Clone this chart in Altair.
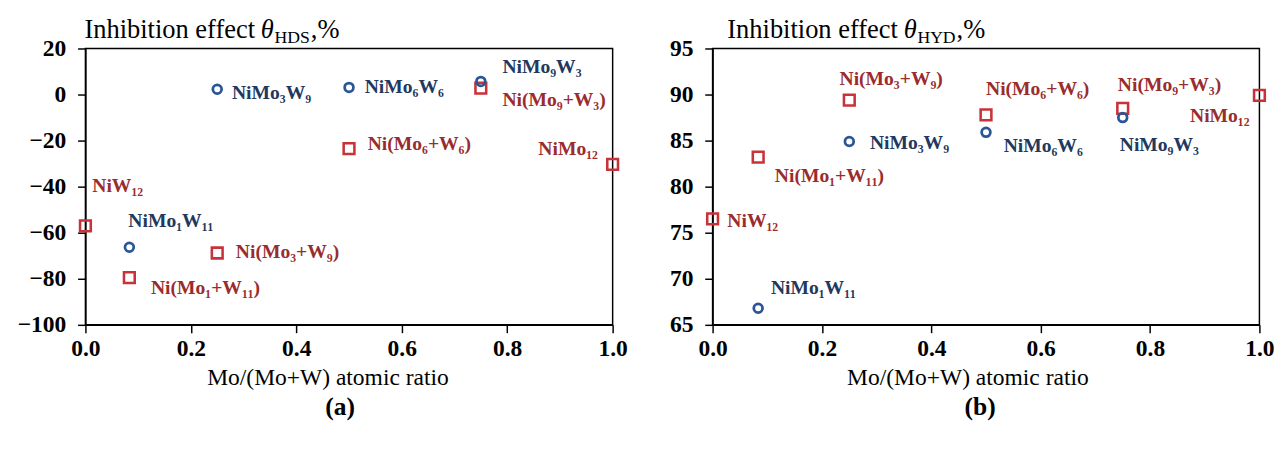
import altair as alt
import pandas as pd

# ---------------- data ----------------
circ_ratio = [1/12, 0.25, 0.5, 0.75]
circ_labels = ["NiMo₁W₁₁", "NiMo₃W₉", "NiMo₆W₆", "NiMo₉W₃"]
hds_circ = [-66.3, 2.3, 3.1, 5.7]
hyd_circ = [66.8, 84.9, 85.9, 87.5]

sq_ratio = [0.0, 1/12, 0.25, 0.5, 0.75, 1.0]
sq_labels = ["NiW₁₂", "Ni(Mo₁+W₁₁)", "Ni(Mo₃+W₉)", "Ni(Mo₆+W₆)", "Ni(Mo₉+W₃)", "NiMo₁₂"]
hds_sq = [-57.0, -79.5, -68.8, -23.5, 2.8, -30.3]
hyd_sq = [76.5, 83.2, 89.4, 87.8, 88.5, 89.9]

x_ticks = [0.0, 0.2, 0.4, 0.6, 0.8, 1.0]
hds_ticks = [-100, -80, -60, -40, -20, 0, 20]
hyd_ticks = [65, 70, 75, 80, 85, 90, 95]

# ---------------- style ----------------
FONT = "Liberation Serif"
BLUE_M = "#2B5595"
BLUE_T = "#22385E"
RED_M = "#C8333A"
RED_T = "#9A2C2E"

left_off = {
    "NiW₁₂": (7, -41, "left"),
    "NiMo₁W₁₁": (-1, -27, "left"),
    "Ni(Mo₁+W₁₁)": (22, 11, "left"),
    "NiMo₃W₉": (15, 4, "left"),
    "Ni(Mo₃+W₉)": (19, -1, "left"),
    "NiMo₆W₆": (16, 0, "left"),
    "Ni(Mo₆+W₆)": (19, -5, "left"),
    "NiMo₉W₃": (22, -15, "left"),
    "Ni(Mo₉+W₃)": (22, 12, "left"),
    "NiMo₁₂": (-15, -16, "right"),
}
right_off = {
    "NiW₁₂": (15, 2, "left"),
    "Ni(Mo₁+W₁₁)": (17, 19, "left"),
    "NiMo₁W₁₁": (13, -21, "left"),
    "Ni(Mo₃+W₉)": (-10, -21, "left"),
    "NiMo₃W₉": (21, 2, "left"),
    "Ni(Mo₆+W₆)": (0, -26, "left"),
    "NiMo₆W₆": (18, 14, "left"),
    "Ni(Mo₉+W₃)": (-5, -24, "left"),
    "NiMo₉W₃": (-3, 28, "left"),
    "NiMo₁₂": (-10, 21, "right"),
}


def panel(yc, ys, ydom, yticks, width, offsets, sub, t0, xtitle_x, tag, tag_x):
    H = 282
    dc = pd.DataFrame({"ratio": circ_ratio, "value": yc, "label": circ_labels})
    ds = pd.DataFrame({"ratio": sq_ratio, "value": ys, "label": sq_labels})
    xe = alt.X("ratio:Q",
               scale=alt.Scale(domain=[0, 1], nice=False, zero=False),
               axis=alt.Axis(values=x_ticks, format=".1f", labelPadding=4,
                             labelFlush=False, labelOverlap=False,
                             title="Mo/(Mo+W) atomic ratio",
                             titleX=xtitle_x, titleY=54, titleBaseline="middle"))
    ye = alt.Y("value:Q",
               scale=alt.Scale(domain=ydom, nice=False, zero=False),
               axis=alt.Axis(values=yticks, format="d", title=None, labelPadding=12,
                             labelFlush=False, labelOverlap=False))
    circles = alt.Chart(dc).mark_point(shape="circle", filled=False, size=80,
                                       strokeWidth=2.8, color=BLUE_M, opacity=1).encode(x=xe, y=ye)
    squares = alt.Chart(ds).mark_point(shape="square", filled=False, size=120,
                                       strokeWidth=2.6, color=RED_M, opacity=1).encode(x=xe, y=ye)
    layers = [squares, circles]
    for df, col in ((dc, BLUE_T), (ds, RED_T)):
        for lab in df["label"]:
            dx, dy, al = offsets[lab]
            layers.append(
                alt.Chart(df).transform_filter(alt.datum.label == lab)
                .mark_text(dx=dx, dy=dy, align=al, baseline="middle", font=FONT,
                           fontSize=20, fontWeight="bold", color=col)
                .encode(x=xe, y=ye, text="label:N"))
    # title pieces: Inhibition effect θ_sub,%
    pieces = [
        ("Inhibition effect", t0, -11, 27, "normal"),
        ("θ", t0 + 180, -11, 27, "italic"),
        (sub, t0 + 194, -6, 18, "normal"),
        (",%", t0 + 195 + (36 if sub == "HDS" else 39), -11, 27, "normal"),
    ]
    for txt, px, py, fs, st in pieces:
        layers.append(
            alt.Chart(pd.DataFrame({"t": [txt]})).mark_text(
                align="left", baseline="alphabetic", font=FONT, fontSize=fs,
                fontStyle=st, color="black")
            .encode(x=alt.value(px), y=alt.value(py), text="t:N"))
    layers.append(
        alt.Chart(pd.DataFrame({"t": [tag]})).mark_text(
            align="center", baseline="middle", font=FONT, fontSize=26,
            fontWeight="bold", color="black")
        .encode(x=alt.value(tag_x), y=alt.value(H + 84), text="t:N"))
    return alt.layer(*layers).properties(width=width, height=H)


left = panel(hds_circ, hds_sq, [-100, 20], hds_ticks, 538, left_off, "HDS", -1, 247, "(a)", 260)
right = panel(hyd_circ, hyd_sq, [65, 95], hyd_ticks, 558, right_off, "HYD", 15, 260, "(b)", 273)

chart = alt.hconcat(left, right, spacing=41).configure_view(
    stroke="black", strokeWidth=1.5
).configure_axis(
    grid=False, domainColor="black", domainWidth=1.5, tickColor="black",
    tickWidth=1.5, tickSize=8, labelFont=FONT, labelFontSize=24,
    labelFontWeight="bold", labelColor="black",
    titleFont=FONT, titleFontSize=24, titleFontWeight="normal",
    titleColor="black",
).properties(padding={"left": 8, "top": 3, "right": 5, "bottom": 5})

chart.save("out.html", embed_options={"renderer": "svg", "actions": False})
